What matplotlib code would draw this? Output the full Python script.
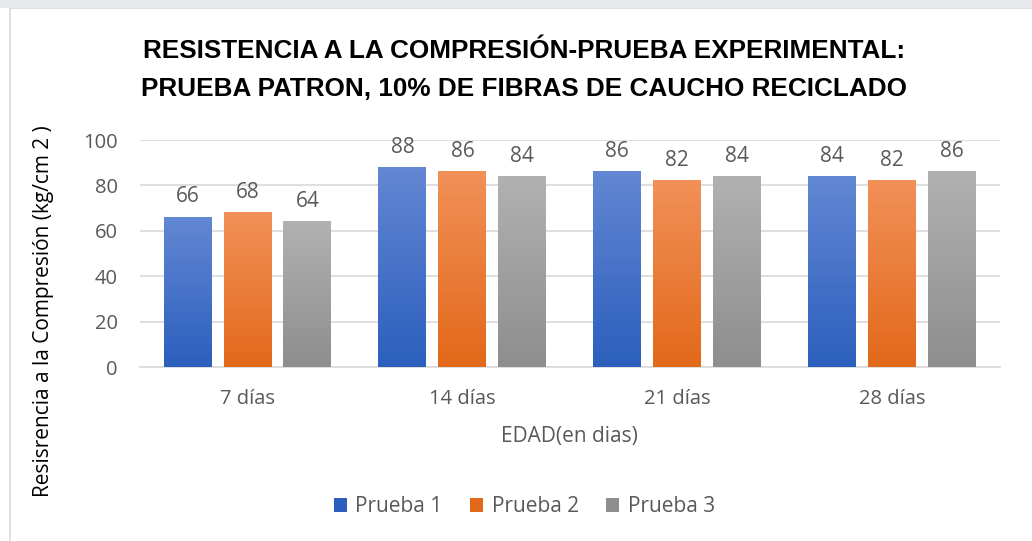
import numpy as np
import matplotlib
matplotlib.use("Agg")
import matplotlib.pyplot as plt
from matplotlib.colors import LinearSegmentedColormap
from matplotlib.patches import Rectangle

# datos
categorias = ["7 días", "14 días", "21 días", "28 días"]
prueba_1 = [66, 88, 86, 84]
prueba_2 = [68, 86, 82, 82]
prueba_3 = [64, 84, 84, 86]
series = ["Prueba 1", "Prueba 2", "Prueba 3"]

# degradado (arriba, abajo) de cada serie
colores = [("#6287d3", "#2c5fbd"), ("#f29058", "#e2691a"), ("#b1b1b1", "#8e8e8e")]
color_texto = "#595959"

plt.rcParams["font.family"] = ["Open Sans", "DejaVu Sans"]

fig = plt.figure(figsize=(10.32, 5.41), dpi=100)
ax = fig.add_axes([0.1357, 0.3216, 0.833, 0.4196])

# marco del gráfico
fig.patches.append(Rectangle((0.0097, -0.01), 1.2, 0.995, transform=fig.transFigure,
                             fill=False, edgecolor="#d9d9d9", linewidth=1.2))
fig.patches.append(Rectangle((0, 0.985), 1, 0.02, transform=fig.transFigure,
                             facecolor="#e6e8ec", edgecolor="none"))

x = np.arange(len(categorias))
ancho = 0.223
paso = 0.279

for i, (nombre, valores) in enumerate(zip(series, [prueba_1, prueba_2, prueba_3])):
    barras = ax.bar(x + (i - 1) * paso, valores, ancho, color=colores[i][1],
                    label=nombre, zorder=2)
    cmap = LinearSegmentedColormap.from_list(nombre, [colores[i][1], colores[i][0]])
    for b, v in zip(barras, valores):
        x0, y0 = b.get_x(), b.get_y()
        grad = np.linspace(0, 1, 100).reshape(-1, 1)
        ax.imshow(grad, extent=(x0, x0 + b.get_width(), y0, y0 + b.get_height()),
                  origin="lower", cmap=cmap, aspect="auto", zorder=3)
        b.set_facecolor("none")
        ax.annotate(str(v), (b.get_x() + b.get_width() / 2, v), xytext=(0, 7),
                    textcoords="offset points", ha="center", va="bottom",
                    fontsize=15, color=color_texto)

ax.set_xlim(-0.5, len(categorias) - 0.5)
ax.set_ylim(0, 100)
ax.set_yticks(range(0, 101, 20))
ax.set_xticks(x)
ax.set_xticklabels(categorias)
ax.grid(axis="y", color="#d9d9d9", linewidth=1.2, zorder=0)
ax.set_axisbelow(True)
for s in ["top", "right", "left"]:
    ax.spines[s].set_visible(False)
ax.spines["bottom"].set_color("#d9d9d9")
ax.spines["bottom"].set_linewidth(1.2)
ax.tick_params(axis="both", length=0, labelsize=14.5, colors=color_texto)
ax.tick_params(axis="x", pad=16)
ax.tick_params(axis="y", pad=16)

ax.set_xlabel("EDAD(en dias)", fontsize=15, color=color_texto, labelpad=12)
fig.text(0.042, 0.425, "Resisrencia a la Compresión (kg/cm 2 )", rotation=90,
         ha="center", va="center", fontsize=15, color="black")

fig.text(0.508, 0.905, "RESISTENCIA A LA COMPRESIÓN-PRUEBA EXPERIMENTAL:",
         ha="center", va="center", fontsize=18.8, fontweight="bold", color="black",
         family=["Liberation Sans Narrow", "Liberation Sans", "DejaVu Sans"])
fig.text(0.508, 0.835, "PRUEBA PATRON, 10% DE FIBRAS DE CAUCHO RECICLADO",
         ha="center", va="center", fontsize=18.8, fontweight="bold", color="black",
         family=["Liberation Sans Narrow", "Liberation Sans", "DejaVu Sans"])

leg = fig.legend(loc="center", bbox_to_anchor=(0.508, 0.064), ncol=3, frameon=False,
                 fontsize=15, handlelength=0.65, handleheight=0.65, handletextpad=0.4,
                 columnspacing=1.3)
for h, c in zip(leg.legend_handles, colores):
    h.set_facecolor(c[1])
for t in leg.get_texts():
    t.set_color(color_texto)

fig.savefig("out.png", dpi=100)
